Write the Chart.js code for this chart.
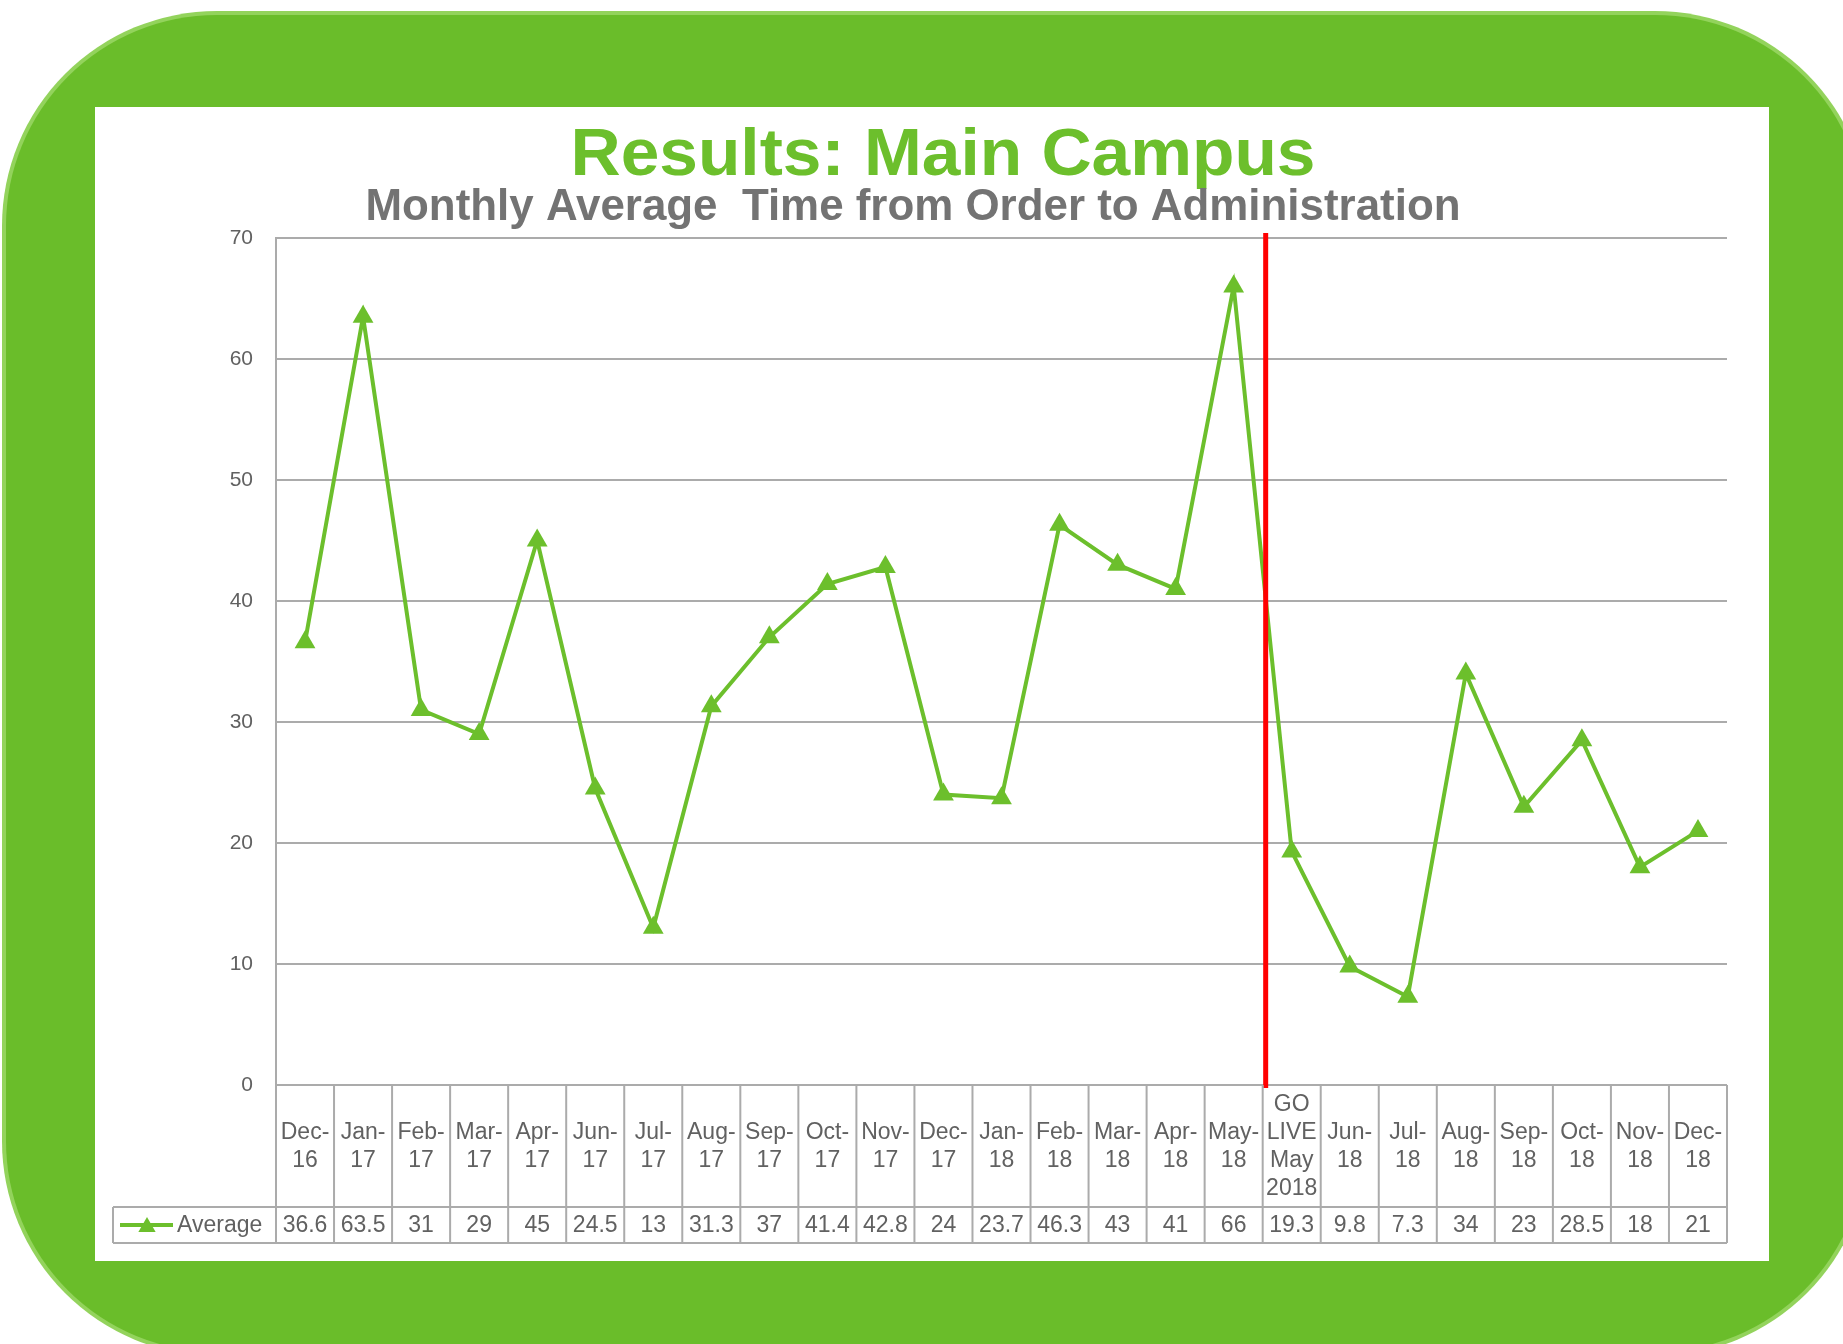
<!DOCTYPE html>
<html><head><meta charset="utf-8">
<script src="https://cdn.jsdelivr.net/npm/chart.js@4.4.1/dist/chart.umd.min.js"></script>
<style>html,body{margin:0;padding:0;background:#fff;overflow:hidden}#wrap{position:relative;width:1843px;height:1344px}canvas{display:block}</style>
</head><body><div id="wrap"><canvas id="c" width="1843" height="1344"></canvas></div>
<script>
const titleText = 'Results: Main Campus';
const subtitleText = 'Monthly Average  Time from Order to Administration';
const seriesName = 'Average';
const categories = [
  ['Dec-','16'],['Jan-','17'],['Feb-','17'],['Mar-','17'],['Apr-','17'],['Jun-','17'],['Jul-','17'],
  ['Aug-','17'],['Sep-','17'],['Oct-','17'],['Nov-','17'],['Dec-','17'],['Jan-','18'],['Feb-','18'],
  ['Mar-','18'],['Apr-','18'],['May-','18'],['GO','LIVE','May','2018'],['Jun-','18'],['Jul-','18'],
  ['Aug-','18'],['Sep-','18'],['Oct-','18'],['Nov-','18'],['Dec-','18']
];
const averageValues = [36.6, 63.5, 31, 29, 45, 24.5, 13, 31.3, 37, 41.4, 42.8, 24, 23.7, 46.3, 43, 41, 66, 19.3, 9.8, 7.3, 34, 23, 28.5, 18, 21];
const valueLabels = ['36.6','63.5','31','29','45','24.5','13','31.3','37','41.4','42.8','24','23.7','46.3','43','41','66','19.3','9.8','7.3','34','23','28.5','18','21'];
const yMin = 0, yMax = 70, yStep = 10;
const goLiveIndex = 17;

const GREEN = '#6abd2a';
const LINE_GREEN = '#6cbf2c';
const GRID = '#ababab';
const TEXT = '#616161';
const FONT = '"Liberation Sans", Arial, sans-serif';

function rr(ctx, x, y, w, h, r) {
  ctx.beginPath();
  ctx.moveTo(x + r, y);
  ctx.lineTo(x + w - r, y);
  ctx.arcTo(x + w, y, x + w, y + r, r);
  ctx.lineTo(x + w, y + h - r);
  ctx.arcTo(x + w, y + h, x + w - r, y + h, r);
  ctx.lineTo(x + r, y + h);
  ctx.arcTo(x, y + h, x, y + h - r, r);
  ctx.lineTo(x, y + r);
  ctx.arcTo(x, y, x + r, y, r);
  ctx.closePath();
}
function fitText(ctx, text, cx, baseline, font, targetW, color) {
  ctx.save();
  ctx.font = font;
  const w = ctx.measureText(text).width;
  ctx.translate(cx, baseline);
  ctx.scale(targetW / w, 1);
  ctx.textAlign = 'center';
  ctx.textBaseline = 'alphabetic';
  ctx.fillStyle = color;
  ctx.fillText(text, 0, 0);
  ctx.restore();
}
function tri(ctx, x, y, r, color) {
  ctx.beginPath();
  for (let k = 0; k < 3; k++) {
    const a = k * 2 * Math.PI / 3;
    const px = x + Math.sin(a) * r, py = y - Math.cos(a) * r;
    if (k === 0) ctx.moveTo(px, py); else ctx.lineTo(px, py);
  }
  ctx.closePath();
  ctx.fillStyle = color;
  ctx.fill();
}

const frame = {
  id: 'frame',
  beforeDraw(chart) {
    const ctx = chart.ctx;
    ctx.save();
    ctx.fillStyle = '#ffffff';
    ctx.fillRect(0, 0, chart.width, chart.height);
    rr(ctx, 2, 11, 1868, 1345, 215);
    ctx.fillStyle = '#93d35c';
    ctx.fill();
    rr(ctx, 6, 15, 1860, 1337, 211);
    ctx.fillStyle = GREEN;
    ctx.fill();
    ctx.fillStyle = '#ffffff';
    ctx.fillRect(95, 107, 1674, 1154);
    fitText(ctx, titleText, 943, 175, 'bold 66px ' + FONT, 745, LINE_GREEN);
    fitText(ctx, subtitleText, 913, 220, 'bold 45px ' + FONT, 1095, '#737373');
    ctx.restore();
  }
};

const goLive = {
  id: 'goLive',
  afterDatasetsDraw(chart) {
    const ctx = chart.ctx, xs = chart.scales.x, ys = chart.scales.y;
    const x = (xs.getPixelForValue(goLiveIndex - 1) + xs.getPixelForValue(goLiveIndex)) / 2 + 3;
    ctx.save();
    ctx.strokeStyle = '#ff0000';
    ctx.lineWidth = 5;
    ctx.beginPath();
    ctx.moveTo(x, ys.getPixelForValue(yMax) - 5);
    ctx.lineTo(x, ys.getPixelForValue(yMin) + 3);
    ctx.stroke();
    ctx.restore();
  }
};

const table = {
  id: 'table',
  afterDraw(chart) {
    const ctx = chart.ctx, xs = chart.scales.x, ys = chart.scales.y;
    const n = categories.length;
    const colW = xs.getPixelForValue(1) - xs.getPixelForValue(0);
    const left = chart.chartArea.left, right = chart.chartArea.right;
    const top = ys.getPixelForValue(yMin);
    const mid = top + 122, bot = mid + 36, legL = 113;
    ctx.save();
    ctx.strokeStyle = GRID;
    ctx.lineWidth = 2;
    ctx.beginPath();
    ctx.moveTo(left, top); ctx.lineTo(left, bot);
    ctx.moveTo(legL, mid); ctx.lineTo(right, mid);
    ctx.moveTo(legL, bot); ctx.lineTo(right, bot);
    ctx.moveTo(legL, mid); ctx.lineTo(legL, bot);
    for (let i = 0; i < n; i++) {
      const xr = xs.getPixelForValue(i) + colW / 2;
      ctx.moveTo(xr, top); ctx.lineTo(xr, bot);
    }
    ctx.stroke();
    ctx.fillStyle = TEXT;
    ctx.font = '23px ' + FONT;
    ctx.textAlign = 'center';
    ctx.textBaseline = 'middle';
    const lh = 28;
    for (let i = 0; i < n; i++) {
      const cx = xs.getPixelForValue(i);
      const lines = categories[i];
      const c = (top + mid) / 2 + 1;
      lines.forEach((t, k) => {
        ctx.fillText(t, cx, c + (k - (lines.length - 1) / 2) * lh);
      });
      ctx.fillText(valueLabels[i], cx, (mid + bot) / 2 + 1);
    }
    const ly = (mid + bot) / 2;
    ctx.strokeStyle = LINE_GREEN;
    ctx.lineWidth = 4;
    ctx.beginPath();
    ctx.moveTo(120, ly); ctx.lineTo(173, ly);
    ctx.stroke();
    tri(ctx, 147, ly + 2, 10, LINE_GREEN);
    ctx.fillStyle = TEXT;
    ctx.textAlign = 'left';
    ctx.fillText(seriesName, 177, ly + 1);
    ctx.restore();
  }
};

new Chart(document.getElementById('c'), {
  type: 'line',
  data: {
    labels: categories,
    datasets: [{
      label: seriesName,
      data: averageValues,
      borderColor: LINE_GREEN,
      backgroundColor: LINE_GREEN,
      borderWidth: 4,
      tension: 0,
      pointStyle: 'triangle',
      pointRadius: 12,
      pointBorderWidth: 0,
      pointBackgroundColor: LINE_GREEN,
      pointBorderColor: LINE_GREEN
    }]
  },
  options: {
    responsive: false,
    animation: false,
    devicePixelRatio: 1,
    layout: { padding: { left: 216, right: 116, top: 238, bottom: 259 } },
    plugins: { legend: { display: false }, title: { display: false }, tooltip: { enabled: false } },
    scales: {
      x: {
        type: 'category',
        offset: true,
        display: false
      },
      y: {
        min: yMin, max: yMax,
        afterFit(s) { s.width = 60; },
        ticks: { stepSize: yStep, padding: 23, color: TEXT, font: { family: FONT, size: 21 } },
        grid: { color: GRID, lineWidth: 2, drawTicks: false },
        border: { display: true, color: GRID, width: 2 }
      }
    }
  },
  plugins: [frame, goLive, table]
});
</script>
</body></html>
